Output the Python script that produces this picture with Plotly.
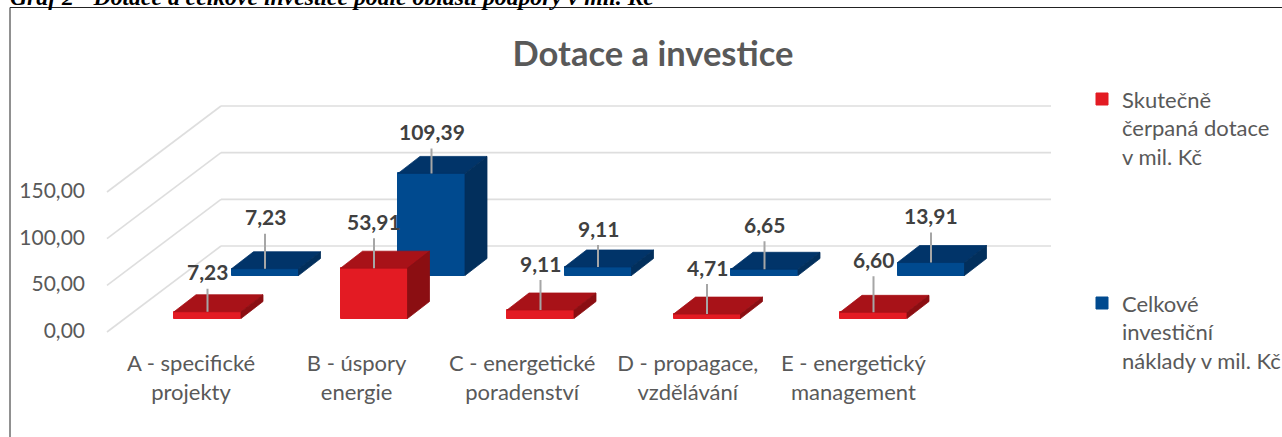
import plotly.graph_objects as go

# ---- data ----
categories = ["A - specifické<br>projekty", "B - úspory<br>energie", "C - energetické<br>poradenství",
              "D - propagace,<br>vzdělávání", "E - energetický<br>management"]
dotace = [7.23, 53.91, 9.11, 4.71, 6.60]
naklady = [7.23, 109.39, 9.11, 6.65, 13.91]
value_ticks = [0, 50, 100, 150]
name_dotace = " <br> <br>Skutečně<br>čerpaná dotace<br>v mil. Kč"
name_naklady = " <br> <br>Celkové<br>investiční<br>náklady v mil. Kč"
leader_dotace = [22, 29, 29, 29, 35]
leader_naklady = [34, 24, 21, 27, 29]

# ---- pseudo-3D projection settings ----
W, H = 1282, 437
PLOT_L, PLOT_R, PLOT_T, PLOT_B = 88, 1060, 60, 345
PX_PER_CAT = 166.5
TICK_PITCH = 165.6 / PX_PER_CAT
PX_PER_VAL = 0.9333
X0_PX, Y0_PX = 191.0, 330.5     # pixel of category 0 / value 0
BAR_W = 67 / PX_PER_CAT
DEPTH_DX, DEPTH_DY = 22 / PX_PER_CAT, 17 / PX_PER_VAL
FONT = "Lato"
GREY = "#595959"
DARK = "#404040"


def px_x(d):
    return d / PX_PER_CAT


def px_y(d):
    return d / PX_PER_VAL


RED = dict(front="#E31B23", top="#A81218", side="#8B0E12", rank=1,
           left=px_x(174 - X0_PX), base=px_y(330.5 - 318.5))
BLUE = dict(front="#004A8F", top="#013469", side="#022F5C", rank=2,
            left=px_x(231.5 - X0_PX), base=px_y(330.5 - 275.5))

fig = go.Figure()

# back-wall / floor grid lines, drawn under every mark
grid_front_x = px_x(107 - X0_PX)
grid_back_x = px_x(221 - X0_PX)
grid_end_x = px_x(1051 - X0_PX)
for v in value_ticks:
    y_front = v - px_y(1.5)
    y_back = y_front + px_y(86)
    fig.add_shape(type="line", layer="below", xref="x", yref="y", x0=grid_front_x, x1=grid_back_x,
                  y0=y_front, y1=y_back, line=dict(color="#DEDEDE", width=1.6))
    fig.add_shape(type="line", layer="below", xref="x", yref="y", x0=grid_back_x, x1=grid_end_x,
                  y0=y_back, y1=y_back, line=dict(color="#DEDEDE", width=1.6))


def add_series(values, style, name):
    xs = [i + style["left"] + BAR_W / 2 for i in range(len(values))]
    # front faces
    fig.add_trace(go.Bar(x=xs, y=values, base=[style["base"]] * len(values), width=BAR_W, name=name,
                         legendgroup=name, legendrank=style["rank"],
                         marker=dict(color=style["front"], line=dict(color=style["front"], width=1)),
                         hoverinfo="skip"))
    top_x, top_y, side_x, side_y = [], [], [], []
    for i, v in enumerate(values):
        l = i + style["left"]
        r = l + BAR_W
        b = style["base"]
        t = b + v
        top_x += [l, r, r + DEPTH_DX, l + DEPTH_DX, l, None]
        top_y += [t, t, t + DEPTH_DY, t + DEPTH_DY, t, None]
        side_x += [r, r + DEPTH_DX, r + DEPTH_DX, r, r, None]
        side_y += [b, b + DEPTH_DY, t + DEPTH_DY, t, b, None]
    for fx, fy, c in ((top_x, top_y, style["top"]), (side_x, side_y, style["side"])):
        fig.add_trace(go.Scatter(x=fx, y=fy, mode="lines", fill="toself", fillcolor=c,
                                 line=dict(color=c, width=0.8), showlegend=False, hoverinfo="skip"))


add_series(naklady, BLUE, name_naklady)
add_series(dotace, RED, name_dotace)


def add_labels(values, style, leaders):
    for i, (v, lead) in enumerate(zip(values, leaders)):
        fig.add_annotation(x=i + style["left"] + BAR_W / 2, y=style["base"] + v, xref="x", yref="y",
                           text=f"<b>{v:.2f}</b>".replace(".", ","),
                           showarrow=True, arrowhead=0, arrowwidth=2, arrowcolor="#A6A6A6",
                           ax=0, ay=-(lead + 18), axref="pixel", ayref="pixel", startstandoff=3,
                           font=dict(family=FONT, size=21, color=DARK))


add_labels(naklady, BLUE, leader_naklady)
add_labels(dotace, RED, leader_dotace)

# chart frame and the caption cut by the crop
fig.add_shape(type="rect", xref="paper", yref="paper", x0=-(PLOT_L - 10) / (PLOT_R - PLOT_L),
              x1=(1300 - PLOT_L) / (PLOT_R - PLOT_L), y0=-(H + 20 - PLOT_B) / (PLOT_B - PLOT_T),
              y1=(PLOT_B - 7.5) / (PLOT_B - PLOT_T), line=dict(color="#222222", width=1), layer="below")
fig.add_annotation(xref="paper", yref="paper", x=(8 - PLOT_L) / (PLOT_R - PLOT_L),
                   y=(PLOT_B - 12) / (PLOT_B - PLOT_T), yanchor="bottom", xanchor="left", showarrow=False,
                   text="<b><i>Graf 2 - Dotace a celkové investice podle oblasti podpory v mil. Kč</i></b>",
                   font=dict(family="Liberation Serif", size=23.7, color="#000000"))

fig.update_layout(
    width=W, height=H, paper_bgcolor="white", plot_bgcolor="white",
    margin=dict(l=PLOT_L, r=W - PLOT_R, t=PLOT_T, b=H - PLOT_B, autoexpand=False),
    title=dict(text="<b>Dotace a investice</b>", x=653 / W, xanchor="center", y=1 - 54 / H, yanchor="middle",
               font=dict(family=FONT, size=34.5, color=GREY)),
    barmode="overlay", bargap=0,
    font=dict(family=FONT, size=22, color=GREY),
    xaxis=dict(range=[(PLOT_L - X0_PX) / PX_PER_CAT, (PLOT_R - X0_PX) / PX_PER_CAT],
               tickmode="array", tickvals=[i * TICK_PITCH for i in range(len(categories))], ticktext=categories,
               showgrid=False, zeroline=False, showline=False, ticks="", ticklabelstandoff=3,
               tickfont=dict(family=FONT, size=22, color=GREY)),
    yaxis=dict(range=[(Y0_PX - PLOT_B) / PX_PER_VAL, (Y0_PX - PLOT_T) / PX_PER_VAL],
               tickmode="array", tickvals=value_ticks, ticktext=[f"{v:.2f}".replace(".", ",") for v in value_ticks],
               showgrid=False, zeroline=False, showline=False, ticks="", ticklabelstandoff=2,
               tickfont=dict(family=FONT, size=21, color=GREY)),
    legend=dict(xref="container", yref="container", x=1082 / W, y=1 - 21 / H, xanchor="left", yanchor="top",
                traceorder="grouped", tracegroupgap=58, bgcolor="rgba(0,0,0,0)", maxheight=1.0,
                font=dict(family=FONT, size=22, color=GREY)),
)

fig.write_html("out.html", config={"displayModeBar": False}, post_script="document.body.style.margin='0';")
